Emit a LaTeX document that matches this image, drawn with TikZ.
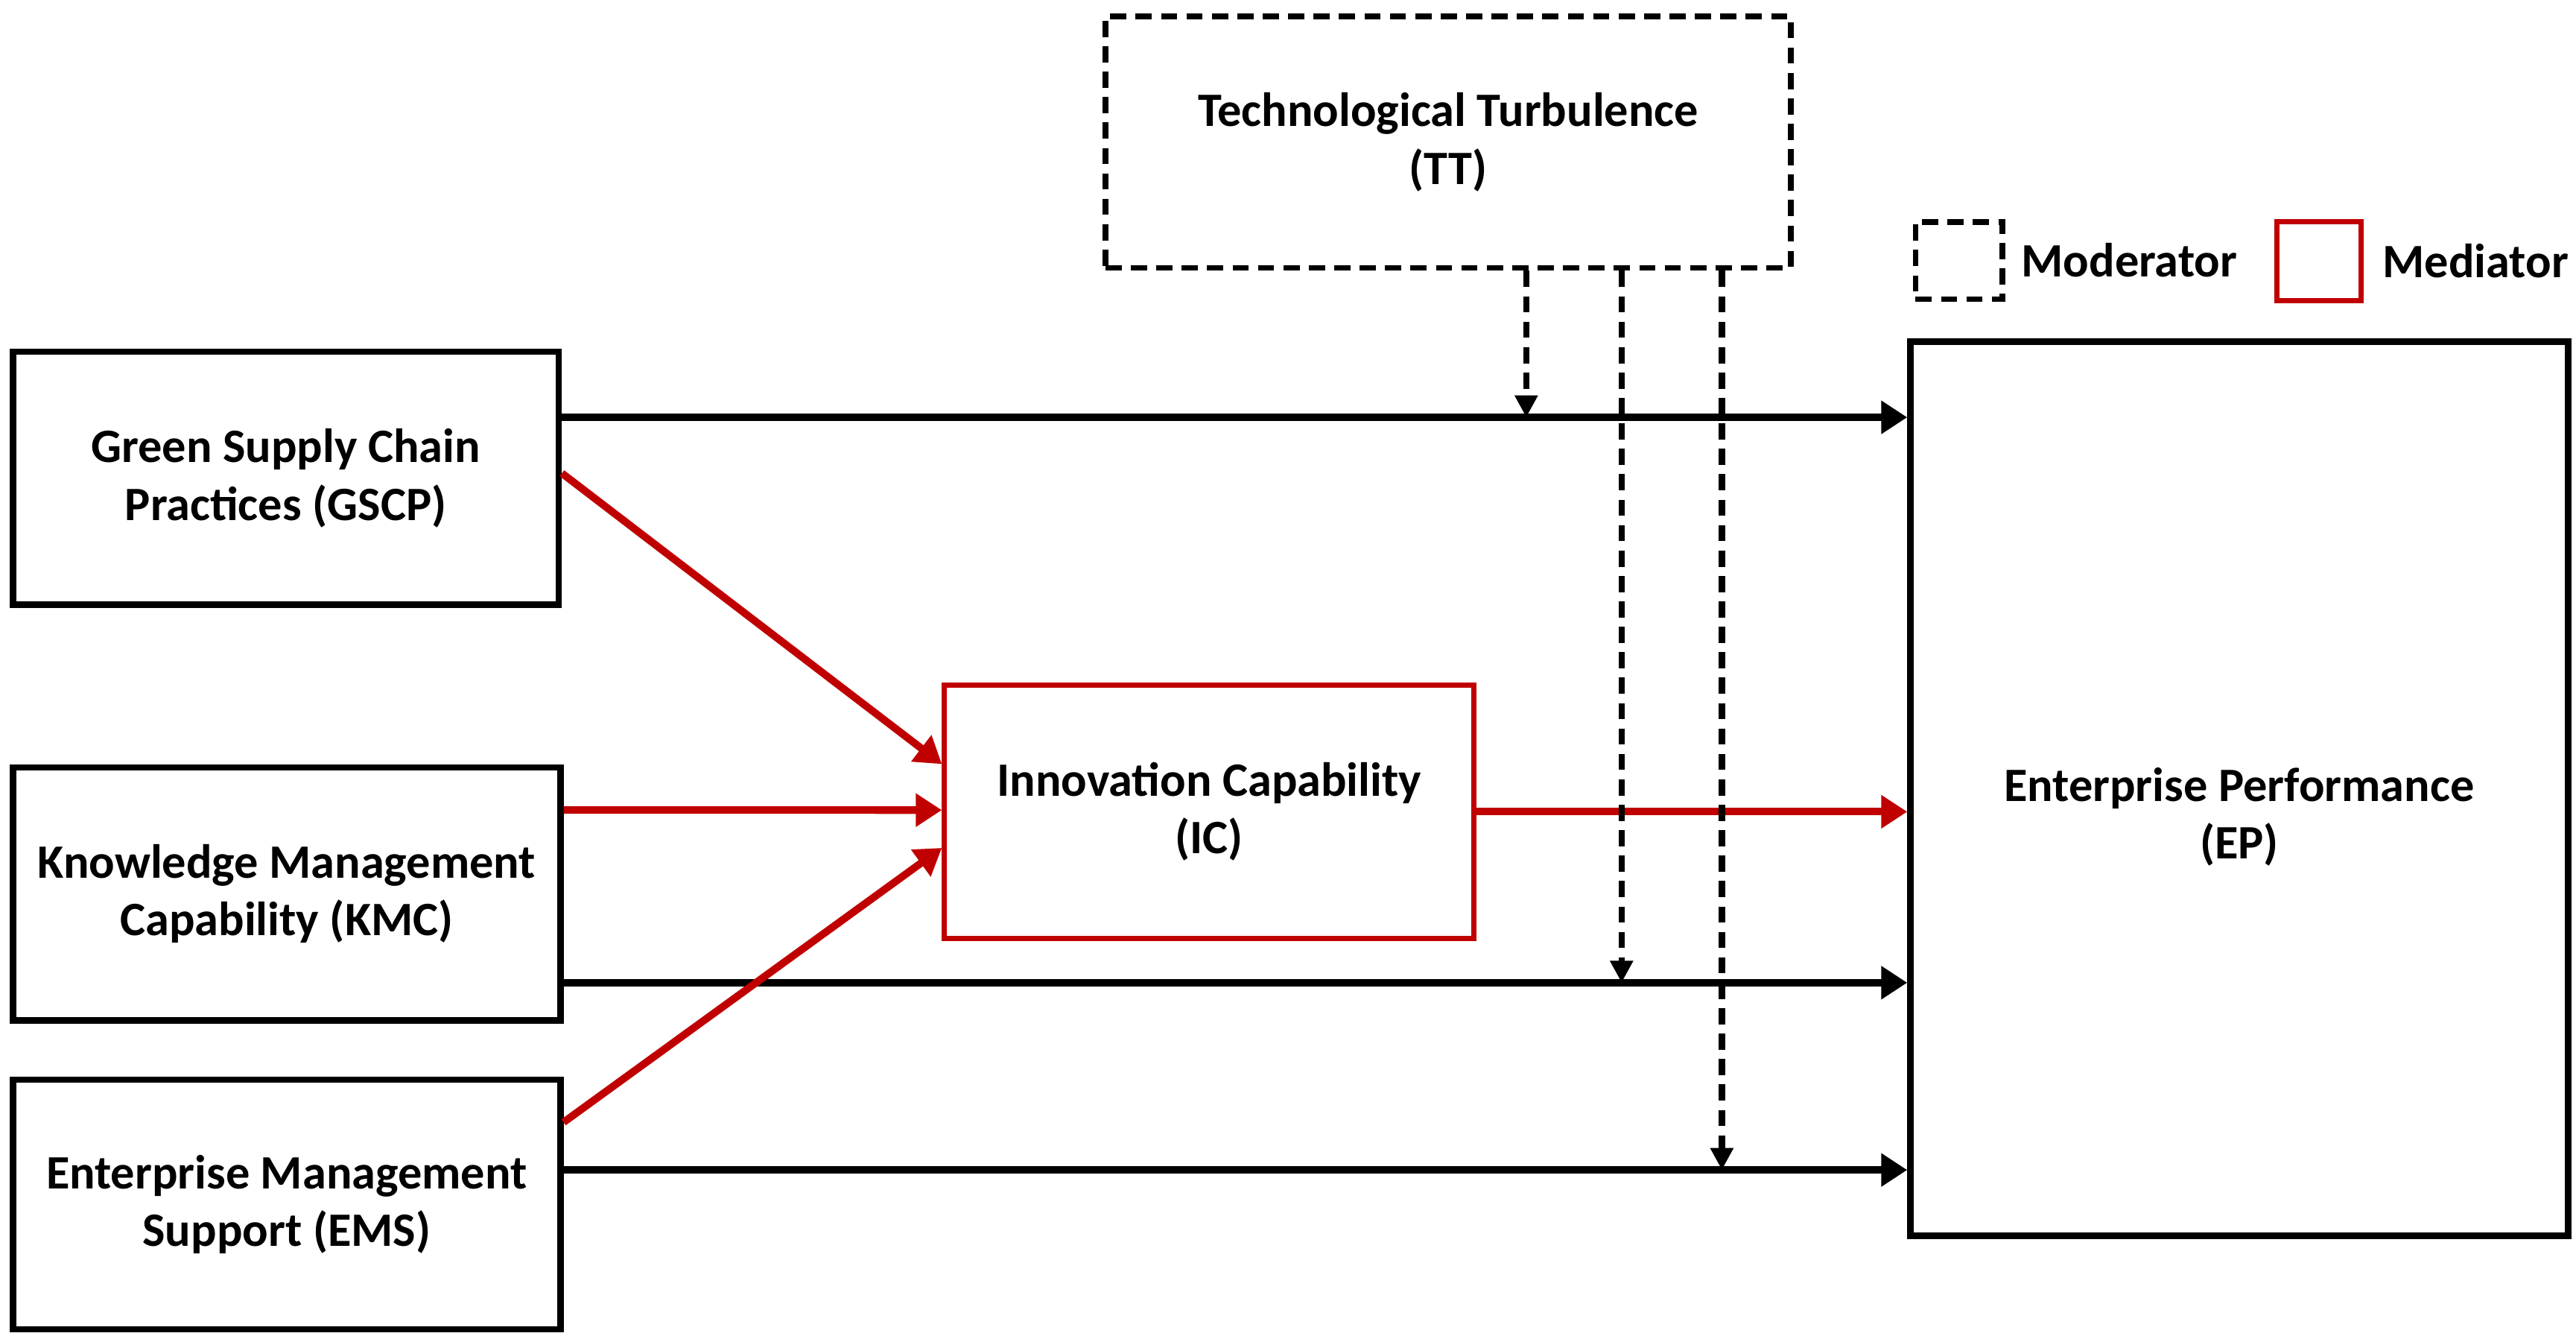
\documentclass[tikz,border=0pt]{standalone}
\usepackage{fontspec}
\setmainfont{Carlito}
\usepackage{tikz}
\usetikzlibrary{arrows.meta,positioning}
\definecolor{medred}{RGB}{192,0,0}

\begin{document}
\begin{tikzpicture}
			[x=0.01cm,y=-0.01cm,
			font=\fontsize{8.3}{10}\selectfont\bfseries,
			box/.style={draw=black,line width=1.1pt,align=center,inner sep=0pt},
			medbox/.style={box,draw=medred,line width=0.9pt},
			modbox/.style={box,line width=1pt,dash pattern=on 2.8pt off 1.6pt},
			arr/.style={line width=1.3pt,-{Triangle[length=4.5pt,width=5.5pt]}},
			medarr/.style={arr,draw=medred,fill=medred},
			modarr/.style={line width=1.1pt,dash pattern=on 2.8pt off 1.6pt,-{Triangle[length=3.8pt,width=3.8pt]}}]

			\useasboundingbox (0,0) rectangle (1568,813);

			% constructs
			\node[box,minimum width=3.32cm,minimum height=1.54cm] (gscp) at (174,291) {Green Supply Chain\\Practices (GSCP)};
			\node[box,minimum width=3.33cm,minimum height=1.54cm] (kmc) at (174.5,544) {Knowledge Management\\Capability (KMC)};
			\node[box,minimum width=3.33cm,minimum height=1.52cm] (ems) at (174.5,733) {Enterprise Management\\Support (EMS)};
			\node[medbox,minimum width=3.22cm,minimum height=1.54cm] (ic) at (736,494) {Innovation Capability\\(IC)};
			\node[box,minimum width=4.00cm,minimum height=5.44cm,text height=0.9cm] (ep) at (1363,480) {Enterprise Performance\\(EP)};
			\node[modbox,minimum width=4.17cm,minimum height=1.53cm] (tt) at (881.5,86.5) {Technological Turbulence\\(TT)};

			% legend
			\node[modbox,minimum width=0.53cm,minimum height=0.47cm] (legmod) at (1192.5,158.5) {};
			\node[right=0.09cm of legmod,inner sep=0pt] (legmodtxt) {Moderator};
			\node[medbox,minimum width=0.51cm,minimum height=0.48cm] (legmed) at (1411.5,159) {};
			\node[right=0.11cm of legmed,inner sep=0pt] (legmedtxt) {Mediator};

			% direct paths
			\coordinate (g1) at ([yshift=0.37cm]gscp.east);
			\coordinate (k1) at ([yshift=-0.54cm]kmc.east);
			\coordinate (e1) at ([yshift=0.21cm]ems.east);
			\draw[arr] (g1) -- (g1 -| ep.west);
			\draw[arr] (k1) -- (k1 -| ep.west);
			\draw[arr] (e1) -- (e1 -| ep.west);

			% mediation
			\draw[medarr] ([yshift=0.03cm]gscp.east) -- ([yshift=0.29cm]ic.west);
			\draw[medarr] ([yshift=0.51cm]kmc.east) -- ([yshift=0.01cm]ic.west);
			\draw[medarr] ([yshift=0.50cm]ems.east) -- ([yshift=-0.22cm]ic.west);
			\draw[medarr] (ic.east) -- (ic.east -| ep.west);

			% moderation
			\coordinate (t1) at ([xshift=0.475cm]tt.south);
			\coordinate (t2) at ([xshift=1.055cm]tt.south);
			\coordinate (t3) at ([xshift=1.665cm]tt.south);
			\draw[modarr] (t1) -- (t1 |- g1);
			\draw[modarr] (t2) -- (t2 |- k1);
			\draw[modarr] (t3) -- (t3 |- e1);

		\end{tikzpicture}
\end{document}
